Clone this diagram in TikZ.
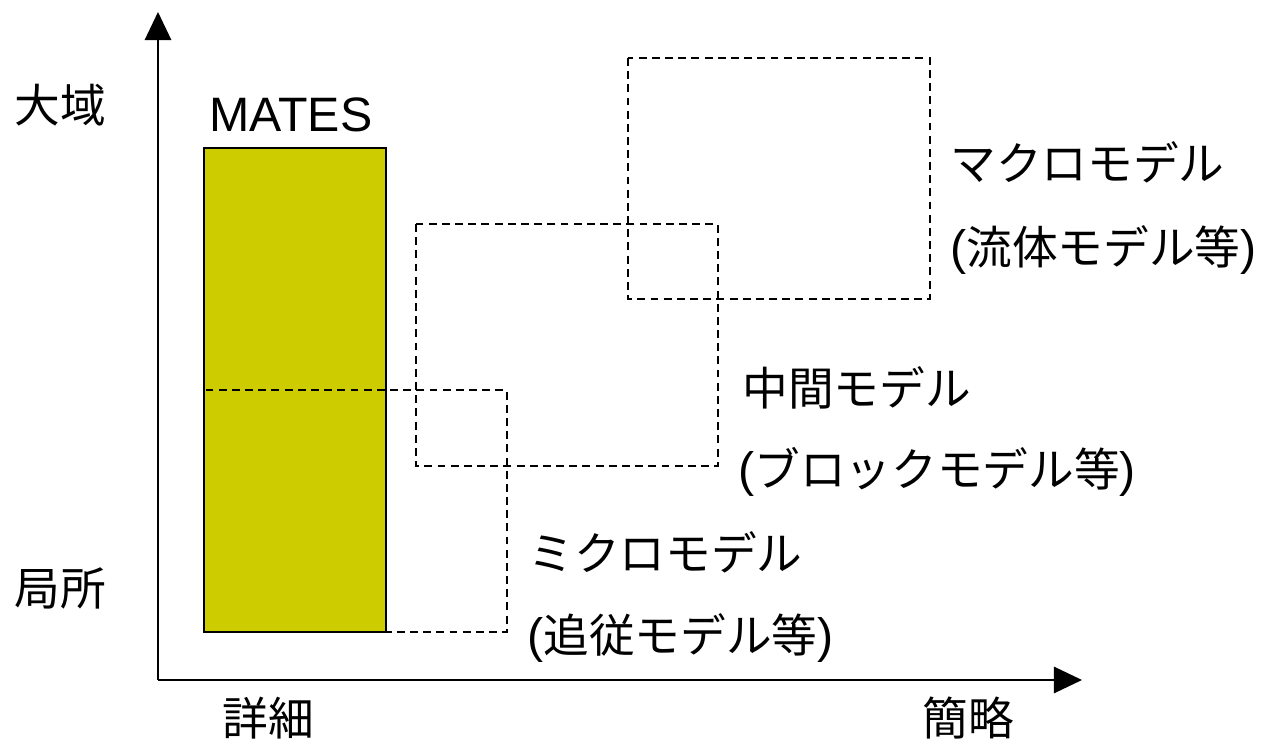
\documentclass[tikz,border=0pt]{standalone}
\usepackage{fontspec}
\setmainfont{Liberation Sans}
\newfontfamily\jpfam{Noto Sans CJK JP}
\newcommand\jp{\jpfam\fontsize{26}{30}\selectfont}
\usetikzlibrary{arrows.meta}
\definecolor{mateyellow}{RGB}{204,204,0}
\tikzset{
  axis/.style={line width=1.2pt,-{Triangle[length=16pt,width=15pt]}},
  modelbox/.style={draw=black,line width=1.2pt,dash pattern=on 4.5pt off 3pt},
  lbl/.style={font=\fontsize{27.5}{30}\selectfont,inner sep=0pt,anchor=west},
  clbl/.style={font=\fontsize{27.5}{30}\selectfont,inner sep=0pt,anchor=center}
}
\begin{document}
\begin{tikzpicture}[x=0.02cm,y=-0.02cm]
\useasboundingbox (0,0) rectangle (1265,742);
% MATES box
\fill[mateyellow] (204,148) rectangle (386,632);
\draw[line width=1.1pt] (204,148) rectangle (386,632);
% dashed model boxes
\draw[modelbox] (204,390) rectangle (507,632);
\draw[modelbox] (416,224) rectangle (718,466);
\draw[modelbox] (628,58) rectangle (930,299);
% axes
\coordinate (o) at (158,680);
\coordinate (ytip) at (158,12);
\coordinate (xtip) at (1082,680);
\draw[axis] (o) -- (ytip);
\draw[axis] (o) -- (xtip);
% labels
\node[clbl] (big) at (60,105) {\jp 大域};
\node[clbl] (loc) at (60,588) {\jp 局所};
\node[clbl] (det) at (268,718) {\jp 詳細};
\node[clbl] (sim) at (968,718) {\jp 簡略};
\node[clbl] (mates) at (291,115) {MATES};
\node[lbl] (mac1) at (950,162) {\jp マクロモデル};
\node[lbl] (mac2) at (950,250) {({\jp 流体モデル等})};
\node[lbl] (mid1) at (742,388) {\jp 中間モデル};
\node[lbl] (mid2) at (738,472) {({\jp ブロックモデル等})};
\node[lbl] (mic1) at (528,552) {\jp ミクロモデル};
\node[lbl] (mic2) at (527,638) {({\jp 追従モデル等})};
\end{tikzpicture}
\end{document}
